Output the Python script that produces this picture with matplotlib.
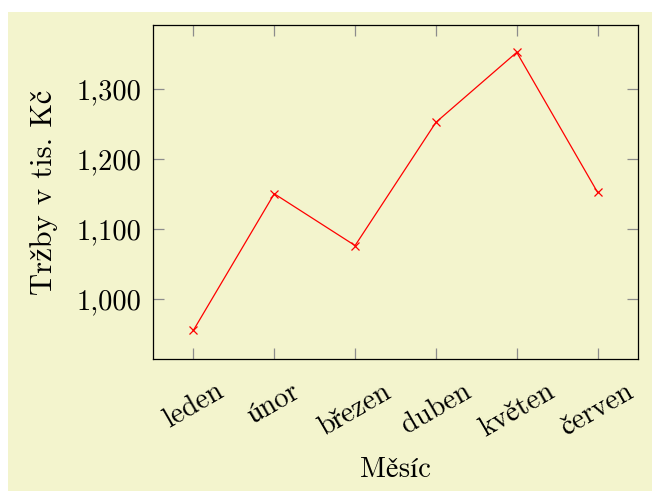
import matplotlib
matplotlib.use("Agg")
import matplotlib.pyplot as plt
from matplotlib.patches import Rectangle
from matplotlib.ticker import StrMethodFormatter

# data
months = ["leden", "únor", "březen", "duben", "květen", "červen"]
sales = [955, 1150, 1076, 1252, 1352, 1152]
yticks = [1000, 1100, 1200, 1300]

# Computer Modern for plain letters, STIX for the accented ones cmr10 lacks
plt.rcParams['font.family'] = ['cmr10', 'STIXGeneral']
plt.rcParams['axes.formatter.use_mathtext'] = True

W, H = 652, 491
fig = plt.figure(figsize=(W / 100, H / 100), dpi=100, facecolor='white')
bg = '#f3f4cd'
# yellow panel, leaving the thin white strip on the left and top
fig.patches.append(Rectangle((8 / W, 0), 1 - 8 / W, 1 - 12 / H,
                             transform=fig.transFigure, facecolor=bg,
                             edgecolor='none', zorder=-10))

ax = fig.add_axes([153 / W, 1 - 359 / H, (638 - 153) / W, (359 - 25) / H])
ax.set_facecolor(bg)

x = list(range(len(months)))
ax.plot(x, sales, color='red', lw=0.9, marker='x', ms=6, mew=0.9)

ax.set_xlim(-0.5, 5.5)
ax.set_ylim(914, 1391)
ax.set_xticks(x)
ax.set_xticklabels(months, rotation=30, ha='center', va='top')
ax.set_yticks(yticks)
ax.yaxis.set_major_formatter(StrMethodFormatter('{x:,.0f}'))

fs = 20.5
ax.tick_params(direction='in', length=8, width=0.9, color='#8c8c8c',
               top=True, right=True, labelsize=fs)
ax.tick_params(axis='x', pad=14)
ax.tick_params(axis='y', pad=8)
for s in ax.spines.values():
    s.set_linewidth(0.9)
    s.set_color('black')

ax.set_ylabel("Tržby v tis. Kč", fontsize=22, labelpad=14)
ax.set_xlabel("Měsíc", fontsize=fs, labelpad=10)

fig.savefig("out.png", dpi=100, facecolor='white')
